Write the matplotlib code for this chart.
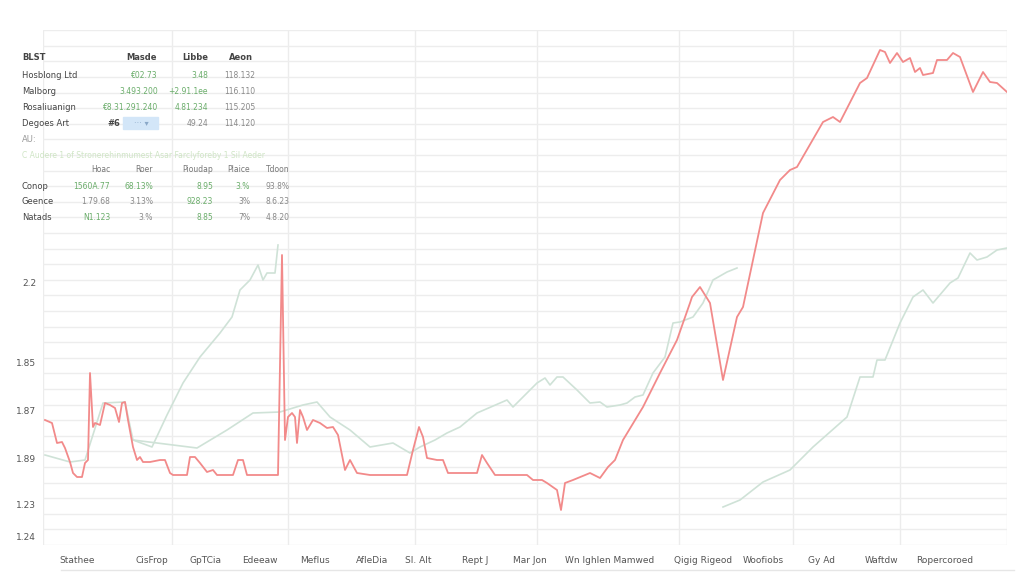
import matplotlib.pyplot as plt
import numpy as np

# red series as (day, level) pairs
red_pts = [(2, 125), (9, 122), (14, 102), (19, 103), (22, 97), (27, 83), (30, 72), (34, 68),
           (39, 68), (42, 82), (45, 85), (47, 172), (50, 118), (52, 122), (57, 120), (62, 142),
           (67, 140), (72, 137), (76, 123), (79, 142), (82, 143), (85, 125), (90, 98), (94, 85),
           (97, 88), (100, 83), (107, 83), (117, 85), (122, 85), (127, 72), (130, 70), (144, 70),
           (147, 88), (152, 88), (157, 82), (164, 73), (170, 75), (174, 70), (190, 70), (195, 85),
           (200, 85), (204, 70), (235, 70), (239, 290), (242, 105), (245, 128), (249, 132),
           (252, 128), (254, 102), (257, 135), (260, 128), (264, 115), (270, 125), (277, 122),
           (284, 117), (290, 118), (295, 110), (302, 75), (307, 85), (314, 72), (327, 70),
           (364, 70), (370, 95), (376, 118), (380, 108), (384, 87), (394, 85), (400, 85),
           (405, 72), (434, 72), (439, 90), (444, 82), (452, 70), (484, 70), (490, 65), (499, 65),
           (504, 62), (514, 55), (518, 35), (522, 62), (530, 65), (547, 72), (557, 67), (565, 78),
           (572, 85), (580, 105), (600, 138), (617, 172), (634, 205), (647, 242), (649, 248),
           (657, 258), (667, 242), (680, 165), (694, 228), (700, 238), (720, 332), (737, 365),
           (747, 375), (754, 378), (780, 423), (790, 428), (797, 423), (817, 462), (824, 467),
           (837, 495), (842, 493), (847, 482), (854, 492), (860, 483), (867, 487), (872, 473),
           (877, 477), (880, 470), (890, 472), (894, 485), (904, 485), (910, 492), (917, 488),
           (930, 453), (940, 473), (947, 463), (954, 462), (964, 453)]
red_x = [p[0] for p in red_pts]
red_y = [p[1] for p in red_pts]

# green series
green_a_x = [2, 27, 42, 60, 82, 90, 109, 124, 140, 157, 177, 189, 197, 207, 215, 220, 224, 232, 235]
green_a_y = [90, 83, 85, 142, 143, 105, 98, 130, 162, 188, 212, 228, 255, 265, 280, 265, 272, 272, 300]

green_b_x = [90, 154, 184, 210, 237, 260, 274, 287, 307, 327, 350, 367, 377, 392, 404, 417, 434,
             464, 470, 494, 502, 507, 514, 520, 534, 547, 557, 564, 577, 584, 592, 600, 610, 622,
             630, 637, 650, 660, 670, 684, 694]
green_b_y = [105, 97, 115, 132, 133, 140, 143, 128, 115, 98, 102, 92, 98, 105, 112, 118, 132,
             145, 138, 162, 167, 160, 168, 168, 155, 142, 143, 138, 140, 142, 148, 150, 172, 188,
             222, 223, 228, 242, 265, 273, 277]

green_c_x = [680, 697, 720, 747, 770, 804, 817, 830, 834, 842, 857, 870, 880, 890, 907, 915,
             927, 934, 944, 954, 964]
green_c_y = [38, 45, 63, 75, 98, 128, 168, 168, 185, 185, 222, 248, 255, 242, 262, 267, 292,
             285, 288, 295, 297]

ytick_pos = [262, 182, 135, 87, 40, 8]
ytick_lab = ['2.2', '1.85', '1.87', '1.89', '1.23', '1.24']

xtick_pos = [34, 109, 162, 217, 272, 329, 375, 432, 487, 567, 660, 720, 779, 839, 902]
xtick_lab = ['Stathee', 'CisFrop', 'GpTCia', 'Edeeaw', 'Meflus', 'AfleDia', 'Sl. Alt',
             'Rept J', 'Mar Jon', 'Wn Ighlen Mamwed', 'Qigig Rigeod', 'Woofiobs', 'Gy Ad',
             'Waftdw', 'Ropercoroed']
vgrid = [0, 129, 245, 372, 494, 636, 750, 857, 964]

# table at top left
head1 = ['BLST', 'Masde', 'Libbe', 'Aeon']
rows1 = ['Hosblong Ltd', 'Malborg', 'Rosaliuanign', 'Degoes Art']
col1a = ['€02.73', '3.493.200', '€8.31.291.240', '']
col1b = ['3.48', '+2.91.1ee', '4.81.234', '49.24']
col1c = ['118.132', '116.110', '115.205', '114.120']

head2 = ['Hoac', 'Roer', 'Pioudap', 'Plaice', 'Tdoon']
rows2 = ['Conop', 'Geence', 'Natads']
vals2 = [['1560A.77', '68.13%', '8.95', '3.%', '93.8%'],
         ['1.79.68', '3.13%', '928.23', '3%', '8.6.23'],
         ['N1.123', '3.%', '8.85', '7%', '4.8.20']]
green2 = [[1, 1, 1, 1, 0], [0, 0, 1, 0, 0], [1, 0, 1, 0, 0]]

fig = plt.figure(figsize=(10.24, 5.76), dpi=100)
ax = fig.add_axes([43 / 1024, 31 / 576, 964 / 1024, 515 / 576])
ax.set_xlim(0, 964)
ax.set_ylim(0, 515)

ax.set_yticks(np.arange(0, 515, 15.6), minor=True)
ax.grid(which='minor', axis='y', color='#ededed', lw=1)
for v in vgrid:
    ax.axvline(v, color='#ececec', lw=1, zorder=0)

ax.plot(green_a_x, green_a_y, color='#cfe2d7', lw=1.2)
ax.plot(green_b_x, green_b_y, color='#cfe2d7', lw=1.2)
ax.plot(green_c_x, green_c_y, color='#cfe2d7', lw=1.2)
ax.plot(red_x, red_y, color='#f28a8a', lw=1.3)

ax.set_yticks(ytick_pos)
ax.set_yticklabels(ytick_lab, fontsize=6.5, color='#555555')
ax.set_xticks(xtick_pos)
ax.set_xticklabels(xtick_lab, fontsize=6.5, color='#555555')
ax.tick_params(which='both', length=0, pad=8)
ax.tick_params(axis='y', pad=5)
for s in ax.spines.values():
    s.set_visible(False)

fig.add_artist(plt.Line2D([0.06, 0.99], [6 / 576, 6 / 576], color='#e6e6e6', lw=1))

# upper table
def put(px, py, s, color='#444444', ha='left', weight='normal', size=6):
    fig.text(px / 1024, 1 - py / 576, s, fontsize=size, color=color, ha=ha, va='center',
             weight=weight)

put(22, 57, head1[0], weight='bold')
put(157, 57, head1[1], ha='right', weight='bold')
put(208, 57, head1[2], ha='right', weight='bold')
put(253, 57, head1[3], ha='right', weight='bold')
for i, r in enumerate(rows1):
    yy = 75 + i * 16
    put(22, yy, r)
    put(158, yy, col1a[i], color='#6aad6a', ha='right', size=5.5)
    put(208, yy, col1b[i], color='#6aad6a' if i < 3 else '#888888', ha='right', size=5.5)
    put(255, yy, col1c[i], color='#888888', ha='right', size=5.5)
fig.add_artist(plt.Rectangle((123 / 1024, 1 - 129 / 576), 35 / 1024, 12 / 576,
                             color='#d3e6f8', transform=fig.transFigure))
put(107, 123, '#6', weight='bold')
put(141, 123, '··· ▾', color='#8aa8c8', ha='center')
put(22, 139, 'AU:', color='#999999')
put(22, 155, 'C Audere 1 of Stronerehinmumest Asar Farclyforeby 1 Sil Aeder', color='#cfe5c5',
    size=5.5)

hx = [110, 153, 213, 250, 290]
for j, h in enumerate(head2):
    put(hx[j], 169, h, color='#777777', ha='right', size=5.5)
for i, r in enumerate(rows2):
    yy = 186 + i * 16
    put(22, yy, r)
    for j, v in enumerate(vals2[i]):
        put(hx[j], yy, v, color='#6aad6a' if green2[i][j] else '#888888', ha='right', size=5.5)

plt.savefig('out.png', dpi=100)
